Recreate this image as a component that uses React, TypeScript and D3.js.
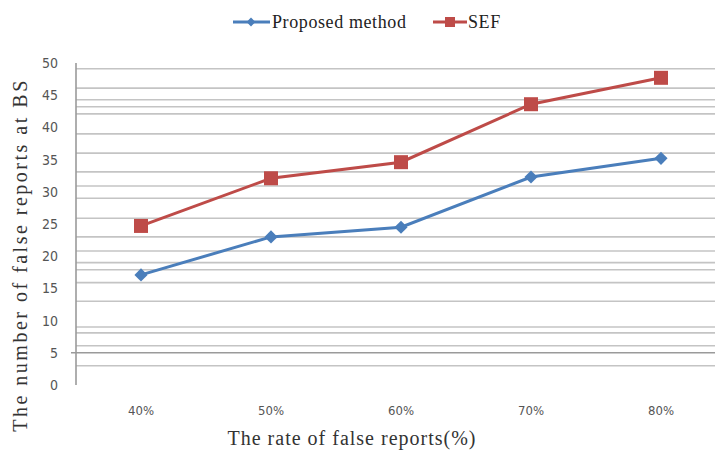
import * as d3 from "d3";
import React, { useEffect, useRef } from "react";

const categories = ["40%", "50%", "60%", "70%", "80%"];
const proposed = [17.1, 23.0, 24.5, 32.3, 35.2];
const sef = [24.7, 32.1, 34.6, 43.6, 47.7];
const yTicks = [0, 5, 10, 15, 20, 25, 30, 35, 40, 45, 50];
// horizontal rules as they appear in the (scanned) picture, in data units
const gridValues = [3.0, 6.1, 8.1, 9.0, 13.0, 15.9, 17.9, 19.0, 20.8, 23.0, 25.9, 29.0, 30.9, 33.1, 36.0, 39.0, 42.1, 43.2, 44.3, 46.1, 49.1];

function App() {
  const ref = useRef<SVGSVGElement | null>(null);

  useEffect(() => {
    const svg = d3.select(ref.current);
    svg.selectAll("*").remove();

    const left = 76, right = 726, top = 63, bottom = 385;
    const x = d3.scalePoint().domain(categories).range([left, right]).padding(0.5);
    const y = d3.scaleLinear().domain([0, 50]).range([bottom, top]);

    svg.append("rect").attr("width", 715).attr("height", 450).attr("fill", "white");

    // grid
    svg.append("g")
      .selectAll("line")
      .data(gridValues)
      .enter()
      .append("line")
      .attr("x1", left)
      .attr("x2", 715)
      .attr("y1", (d) => y(d))
      .attr("y2", (d) => y(d))
      .attr("stroke", "#c4c4c4")
      .attr("stroke-width", 1.6);

    // darker horizontal axis line with tick
    svg.append("line")
      .attr("x1", left - 5)
      .attr("x2", 715)
      .attr("y1", y(5))
      .attr("y2", y(5))
      .attr("stroke", "#9a9a9a")
      .attr("stroke-width", 1.6);

    // y axis
    svg.append("line")
      .attr("x1", left)
      .attr("x2", left)
      .attr("y1", top)
      .attr("y2", bottom)
      .attr("stroke", "#9a9a9a")
      .attr("stroke-width", 1.6);

    svg.append("g")
      .selectAll("text")
      .data(yTicks)
      .enter()
      .append("text")
      .attr("x", 58)
      .attr("y", (d) => y(d))
      .attr("dy", "0.35em")
      .attr("text-anchor", "end")
      .attr("font-family", "DejaVu Sans Condensed, sans-serif")
      .attr("font-size", 14)
      .attr("fill", "#555")
      .text((d) => d);

    svg.append("g")
      .selectAll("text")
      .data(categories)
      .enter()
      .append("text")
      .attr("x", (d) => x(d)!)
      .attr("y", 410)
      .attr("dy", "0.35em")
      .attr("text-anchor", "middle")
      .attr("font-family", "DejaVu Sans Condensed, sans-serif")
      .attr("font-size", 13)
      .attr("fill", "#555")
      .text((d) => d);

    svg.append("text")
      .attr("x", 352)
      .attr("y", 438)
      .attr("dy", "0.35em")
      .attr("text-anchor", "middle")
      .attr("font-family", "Liberation Serif, serif")
      .attr("font-size", 20)
      .attr("letter-spacing", 1)
      .attr("fill", "#333")
      .text("The rate of false reports(%)");

    svg.append("text")
      .attr("transform", "translate(20,255) rotate(-90)")
      .attr("dy", "0.35em")
      .attr("text-anchor", "middle")
      .attr("font-family", "Liberation Serif, serif")
      .attr("font-size", 20)
      .attr("letter-spacing", 2.5)
      .attr("fill", "#333")
      .text("The number of false reports at BS");

    const line = d3.line<number>()
      .x((d, i) => x(categories[i])!)
      .y((d) => y(d));

    const blue = "#4a7ebb", red = "#be4b48";

    svg.append("path").attr("d", line(sef)).attr("fill", "none").attr("stroke", red).attr("stroke-width", 3);
    svg.append("path").attr("d", line(proposed)).attr("fill", "none").attr("stroke", blue).attr("stroke-width", 3);

    svg.append("g")
      .selectAll("rect")
      .data(sef)
      .enter()
      .append("rect")
      .attr("x", (d, i) => x(categories[i])! - 7)
      .attr("y", (d) => y(d) - 7)
      .attr("width", 14)
      .attr("height", 14)
      .attr("fill", red);

    const diamond = d3.symbol().type(d3.symbolDiamond2).size(110);
    svg.append("g")
      .selectAll("path")
      .data(proposed)
      .enter()
      .append("path")
      .attr("d", diamond()!)
      .attr("transform", (d, i) => `translate(${x(categories[i])},${y(d)})`)
      .attr("fill", blue);

    // legend
    const legend = svg.append("g").attr("font-family", "Liberation Serif, serif").attr("font-size", 18).attr("letter-spacing", 0.6).attr("fill", "#222");
    legend.append("line").attr("x1", 233).attr("x2", 270).attr("y1", 22).attr("y2", 22).attr("stroke", blue).attr("stroke-width", 3);
    legend.append("path").attr("d", d3.symbol().type(d3.symbolDiamond2).size(50)()!).attr("transform", "translate(251,22)").attr("fill", blue);
    legend.append("text").attr("x", 272).attr("y", 22).attr("dy", "0.35em").text("Proposed method");
    legend.append("line").attr("x1", 433).attr("x2", 467).attr("y1", 22).attr("y2", 22).attr("stroke", red).attr("stroke-width", 3);
    legend.append("rect").attr("x", 445).attr("y", 17).attr("width", 10).attr("height", 10).attr("fill", red);
    legend.append("text").attr("x", 468).attr("y", 22).attr("dy", "0.35em").text("SEF");
  }, []);

  return (
    <svg ref={ref} width={715} height={450} style={{ position: "absolute", left: 0, top: 0 }} />
  );
}

export default App;
